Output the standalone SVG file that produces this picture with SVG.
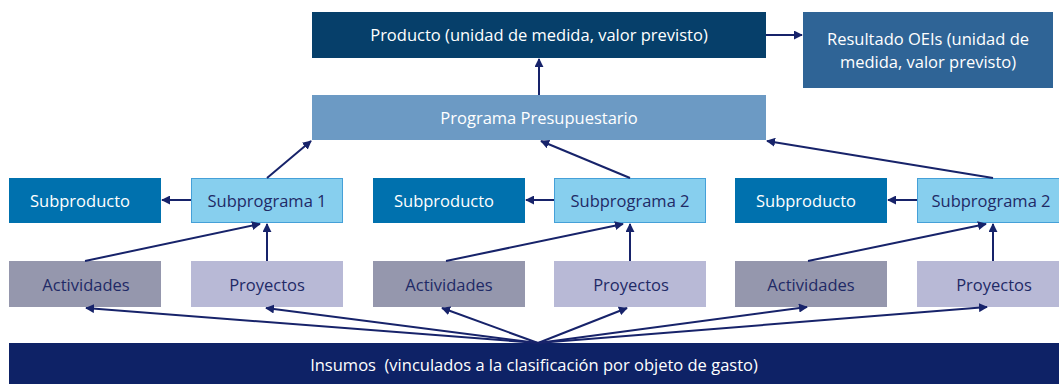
<svg xmlns="http://www.w3.org/2000/svg" width="1059" height="384" viewBox="0 0 1059 384">
<style>
text{font-family:"Open Sans","Liberation Sans",sans-serif;font-size:16.5px;text-anchor:middle;dominant-baseline:central}
.w{fill:#ffffff}
.d{fill:#1f2a66}
.c{stroke:#17236a;stroke-width:2;fill:none;marker-end:url(#ah)}
</style>
<defs>
<marker id="ah" viewBox="0 0 10 10" refX="9" refY="5" markerWidth="9" markerHeight="9" markerUnits="userSpaceOnUse" orient="auto">
<path d="M0,0 L10,5 L0,10 Z" fill="#17236a"/>
</marker>
</defs>
<rect width="1059" height="384" fill="#ffffff"/>
<g id="producto"><rect x="312" y="12" width="454" height="46" fill="#063f6a"/><text class="w" x="539" y="34">Producto (unidad de medida, valor previsto)</text></g>
<g id="resultado"><rect x="803" y="12" width="250" height="76" fill="#2f6496"/><text class="w" x="928" y="38">Resultado OEIs (unidad de</text><text class="w" x="928" y="61">medida, valor previsto)</text></g>
<g id="programa"><rect x="312" y="95" width="454" height="45" fill="#6c9ac4"/><text class="w" x="539" y="117">Programa Presupuestario</text></g>
<g id="subproducto1"><rect x="9" y="178" width="152" height="45" fill="#0071ae"/><text class="w" x="80" y="200">Subproducto</text></g>
<g id="subprograma1"><rect x="191.5" y="178.5" width="151" height="44" fill="#87cfee" stroke="#45a0d8"/><text class="d" x="267" y="200">Subprograma 1</text></g>
<g id="subproducto2"><rect x="373" y="178" width="152" height="45" fill="#0071ae"/><text class="w" x="444" y="200">Subproducto</text></g>
<g id="subprograma2"><rect x="554.5" y="178.5" width="151" height="44" fill="#87cfee" stroke="#45a0d8"/><text class="d" x="630" y="200">Subprograma 2</text></g>
<g id="subproducto3"><rect x="735" y="178" width="152" height="45" fill="#0071ae"/><text class="w" x="806" y="200">Subproducto</text></g>
<g id="subprograma3"><rect x="917.5" y="178.5" width="150" height="44" fill="#87cfee" stroke="#45a0d8"/><text class="d" x="991" y="200">Subprograma 2</text></g>
<g id="actividades1"><rect x="9" y="261" width="152" height="46" fill="#9597ad"/><text class="d" x="86" y="284">Actividades</text></g>
<g id="proyectos1"><rect x="191" y="261" width="152" height="46" fill="#b8b9d6"/><text class="d" x="267" y="284">Proyectos</text></g>
<g id="actividades2"><rect x="373" y="261" width="152" height="46" fill="#9597ad"/><text class="d" x="449" y="284">Actividades</text></g>
<g id="proyectos2"><rect x="554" y="261" width="152" height="46" fill="#b8b9d6"/><text class="d" x="631" y="284">Proyectos</text></g>
<g id="actividades3"><rect x="735" y="261" width="152" height="46" fill="#9597ad"/><text class="d" x="811" y="284">Actividades</text></g>
<g id="proyectos3"><rect x="917" y="261" width="142" height="46" fill="#b8b9d6"/><text class="d" x="994" y="284">Proyectos</text></g>
<g id="insumos"><rect x="9" y="343" width="1050" height="41" fill="#0e2266"/><text class="w" x="534" y="364" xml:space="preserve" style="white-space:pre">Insumos  (vinculados a la clasificación por objeto de gasto)</text></g>
<g id="connectors">
<line class="c" x1="766" y1="35" x2="802" y2="35"/>
<line class="c" x1="539" y1="95" x2="539" y2="59"/>
<line class="c" x1="267" y1="178" x2="311" y2="141"/>
<line class="c" x1="630" y1="178" x2="541" y2="141"/>
<line class="c" x1="993" y1="178" x2="767" y2="141"/>
<line class="c" x1="191" y1="200" x2="162" y2="200"/>
<line class="c" x1="554" y1="200" x2="526" y2="200"/>
<line class="c" x1="917" y1="200" x2="888" y2="200"/>
<line class="c" x1="85" y1="261" x2="260" y2="224"/>
<line class="c" x1="267" y1="261" x2="267" y2="224"/>
<line class="c" x1="446" y1="261" x2="623" y2="224"/>
<line class="c" x1="630" y1="261" x2="630" y2="224"/>
<line class="c" x1="808" y1="261" x2="986" y2="224"/>
<line class="c" x1="993" y1="261" x2="993" y2="224"/>
<line class="c" x1="538" y1="343" x2="86" y2="308"/>
<line class="c" x1="538" y1="343" x2="266" y2="308"/>
<line class="c" x1="538" y1="343" x2="442" y2="308"/>
<line class="c" x1="538" y1="343" x2="627" y2="308"/>
<line class="c" x1="538" y1="343" x2="807" y2="307"/>
<line class="c" x1="538" y1="343" x2="987" y2="307"/>
</g>
</svg>
